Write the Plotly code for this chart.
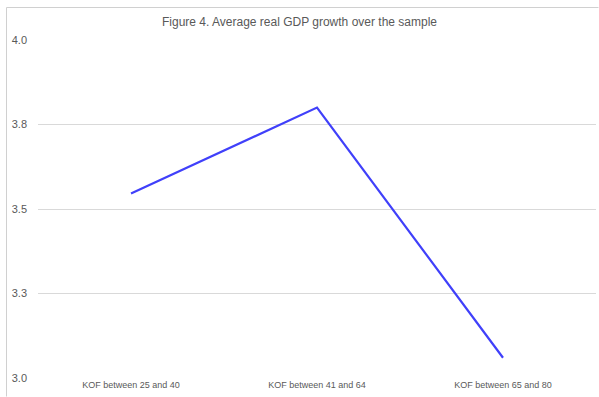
import plotly.graph_objects as go

# Average real GDP growth (%) by KOF globalisation index band
categories = ["KOF between 25 and 40", "KOF between 41 and 64", "KOF between 65 and 80"]
gdp_growth = [3.546, 3.80, 3.06]

# Y axis ticks every 0.25, labelled to one decimal place
y_tick_values = [3.0, 3.25, 3.5, 3.75, 4.0]
y_tick_labels = ["3.0", "3.3", "3.5", "3.8", "4.0"]

grey_text = "#595959"
font_family = "Liberation Sans, Arial, sans-serif"

fig = go.Figure()
fig.add_trace(go.Scatter(
    x=[0, 1, 2],
    y=gdp_growth,
    mode="lines",
    line=dict(color="#4040FA", width=2.2),
    hoverinfo="skip",
))

fig.update_layout(
    width=599,
    height=397,
    margin=dict(l=38, r=3, t=40, b=19),
    paper_bgcolor="white",
    plot_bgcolor="white",
    showlegend=False,
    title=dict(
        text="Figure 4. Average real GDP growth over the sample",
        font=dict(family=font_family, size=12, color=grey_text),
        x=0.5, xanchor="center",
        y=1 - 22 / 397, yanchor="middle",
    ),
    xaxis=dict(
        range=[-0.5, 2.5],
        tickmode="array",
        tickvals=[0, 1, 2],
        ticktext=categories,
        tickfont=dict(family=font_family, size=9, color=grey_text),
        showgrid=False,
        zeroline=False,
        showline=False,
        ticks="",
        fixedrange=True,
    ),
    yaxis=dict(
        range=[3.0, 4.0],
        tickmode="array",
        tickvals=y_tick_values,
        ticktext=y_tick_labels,
        tickfont=dict(family=font_family, size=11, color=grey_text),
        showgrid=True,
        gridcolor="#D9D9D9",
        gridwidth=1,
        zeroline=False,
        showline=False,
        ticks="",
        ticklabelstandoff=10,
        fixedrange=True,
    ),
)

# light chart-area border: left and top edges, kept inside the page
border_left = (6.5 - 38) / 558
border_top = 1 + (40 - 7.5) / 338
page_bottom = (378 - 396.5) / 338
page_right = (598.5 - 38) / 558
fig.add_shape(
    type="path", xref="paper", yref="paper",
    path=(f"M {border_left},{page_bottom} L {border_left},{border_top} "
          f"L {page_right},{border_top}"),
    line=dict(color="#D0D0D0", width=1),
    layer="above",
)

fig.write_html("out.html")
